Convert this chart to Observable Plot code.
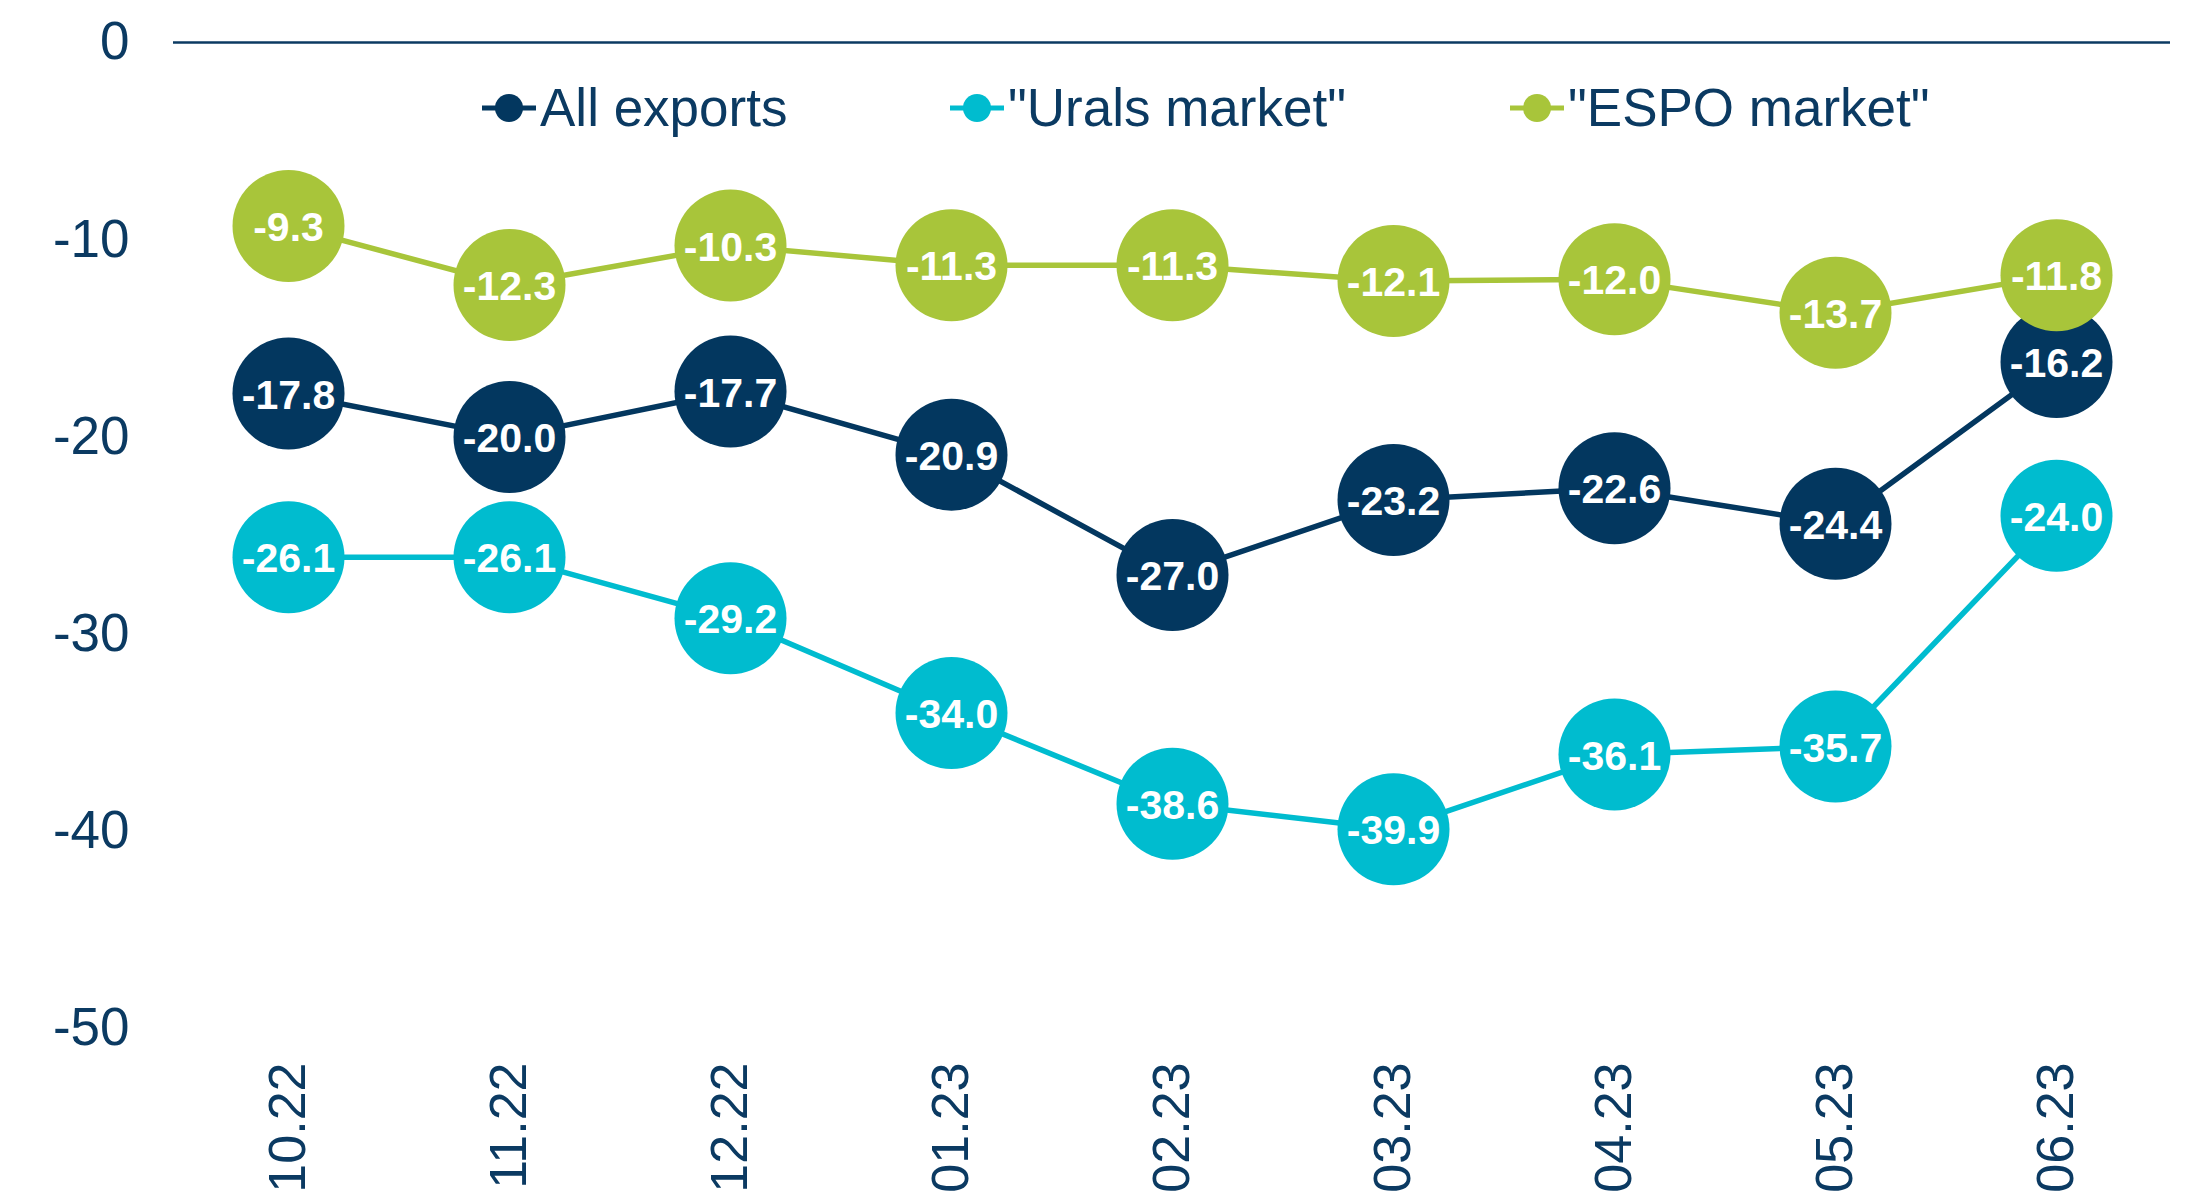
<!DOCTYPE html>
<html>
<head>
<meta charset="utf-8">
<script src="https://cdn.jsdelivr.net/npm/d3@7"></script>
<script src="https://cdn.jsdelivr.net/npm/@observablehq/plot@0.6"></script>
<style>
  html, body { margin: 0; padding: 0; background: #ffffff; }
  #wrap { position: relative; width: 2192px; height: 1202px; font-family: "Liberation Sans", Arial, sans-serif; }
  .leg { position: absolute; top: 78px; display: flex; align-items: center; font-size: 53px; color: #0b3a62; line-height: 60px; white-space: nowrap; }
  .leg svg { margin-right: 4px; }
</style>
</head>
<body>
<div id="wrap"></div>
<script>
const months = ["10.22","11.22","12.22","01.23","02.23","03.23","04.23","05.23","06.23"];
const allExports = [-17.8, -20.0, -17.7, -20.9, -27.0, -23.2, -22.6, -24.4, -16.2];
const urals = [-26.1, -26.1, -29.2, -34.0, -38.6, -39.9, -36.1, -35.7, -24.0];
const espo = [-9.3, -12.3, -10.3, -11.3, -11.3, -12.1, -12.0, -13.7, -11.8];
const seriesNames = ["All exports", "\"Urals market\"", "\"ESPO market\""];
const seriesColors = ["#03375f", "#00bccf", "#a8c53a"];
const yTicks = [0, -10, -20, -30, -40, -50];
const legendLeft = [482, 950, 1510];

const seriesValues = [allExports, urals, espo];
const axisColor = "#0b3a62";

const seriesMarks = seriesValues.flatMap((vals, i) => {
  const rows = months.map((m, j) => ({month: m, value: vals[j]}));
  return [
    Plot.line(rows, {x: "month", y: "value", stroke: seriesColors[i], strokeWidth: 5.5}),
    Plot.dot(rows, {x: "month", y: "value", r: 56, fill: seriesColors[i], stroke: "none"}),
    Plot.text(rows, {x: "month", y: "value", text: d => d.value.toFixed(1), fill: "white", dy: 2,
      fontSize: 41, fontWeight: "bold", fontFamily: "Liberation Sans, Arial, sans-serif"})
  ];
});

const chart = Plot.plot({
  width: 2192,
  height: 1202,
  marginLeft: 173,
  marginRight: 22,
  marginTop: 42,
  marginBottom: 174,
  x: {type: "point", domain: months, padding: 0.5, label: null},
  y: {domain: [-50, 0], label: null},
  style: {fontFamily: "Liberation Sans, Arial, sans-serif", color: axisColor, background: "white"},
  marks: [
    Plot.axisY({ticks: yTicks, tickSize: 0, tickPadding: 44, fontSize: 53, tickFormat: d => String(d), label: null}),
    Plot.axisX({tickRotate: -90, tickSize: 0, tickPadding: 34, fontSize: 52, label: null}),
    Plot.ruleY([0], {stroke: "#0b3a62", strokeWidth: 2.5}),
    ...seriesMarks
  ]
});

const wrap = document.getElementById("wrap");
wrap.appendChild(chart);

seriesNames.forEach((name, i) => {
  const div = document.createElement("div");
  div.className = "leg";
  div.style.left = legendLeft[i] + "px";
  div.innerHTML = `<svg width="54" height="30"><line x1="0" y1="15" x2="54" y2="15" stroke="${seriesColors[i]}" stroke-width="5"/><circle cx="27" cy="15" r="14" fill="${seriesColors[i]}"/></svg><span></span>`;
  div.querySelector("span").textContent = name;
  wrap.appendChild(div);
});
</script>
</body>
</html>
